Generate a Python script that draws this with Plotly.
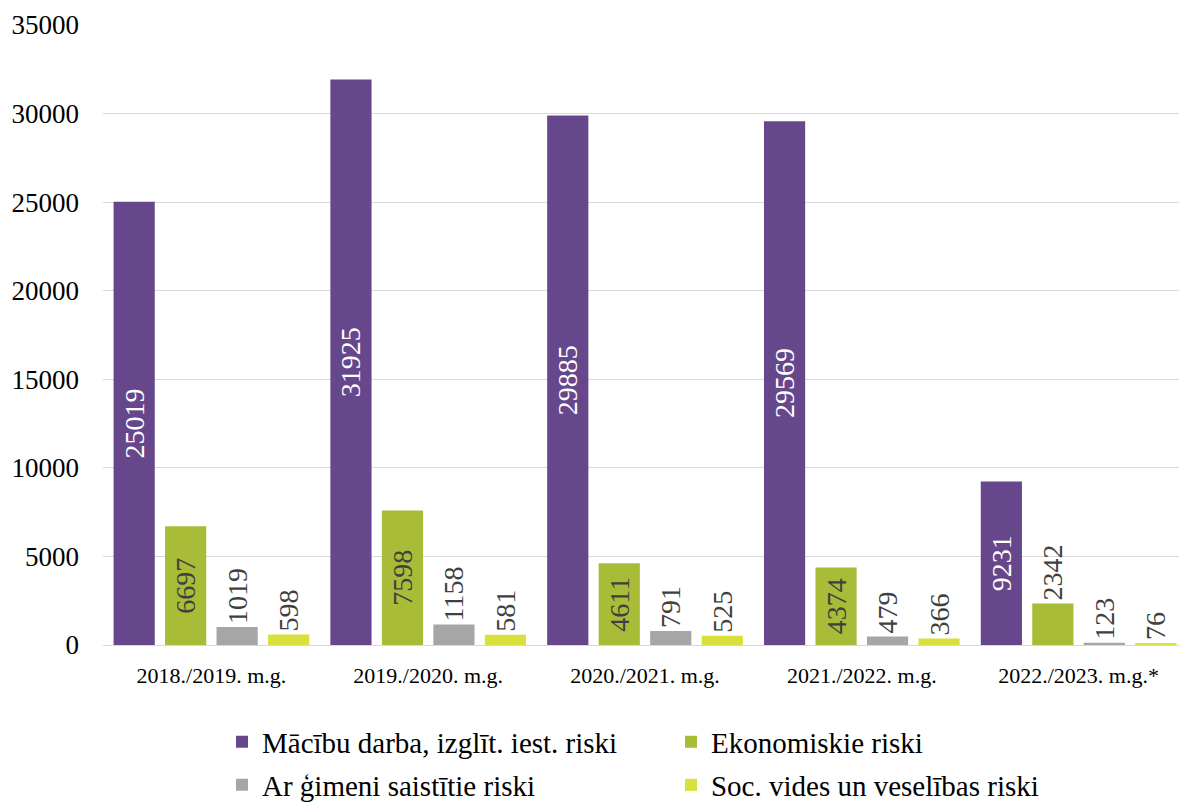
import plotly.graph_objects as go

categories = ["2018./2019. m.g.", "2019./2020. m.g.", "2020./2021. m.g.", "2021./2022. m.g.", "2022./2023. m.g.*"]
series_names = ["Mācību darba, izglīt. iest. riski", "Ekonomiskie riski",
                "Ar ģimeni saistītie riski", "Soc. vides un veselības riski"]
mac = [25019, 31925, 29885, 29569, 9231]
eko = [6697, 7598, 4611, 4374, 2342]
gim = [1019, 1158, 791, 479, 123]
soc = [598, 581, 525, 366, 76]

colors = ["#67478B", "#A8BC38", "#A6A6A6", "#D8E03C"]
FONT = "Liberation Serif, Times New Roman, serif"
values = [mac, eko, gim, soc]
legends = ["legend", "legend", "legend2", "legend2"]

fig = go.Figure()
for i, (name, vals) in enumerate(zip(series_names, values)):
    if i == 0:
        pos = ["inside"] * len(vals)
    elif i == 1:
        pos = ["inside" if v > 3000 else "outside" for v in vals]
    else:
        pos = ["outside"] * len(vals)
    tcol = "white" if i == 0 else "#404040"
    fig.add_trace(go.Bar(
        x=categories, y=vals, name=name,
        marker=dict(color=colors[i], line=dict(width=0)),
        text=[str(v) for v in vals], textposition=pos, textangle=-90,
        insidetextanchor="middle",
        textfont=dict(family=FONT, size=28, color=tcol),
        insidetextfont=dict(family=FONT, size=28, color=tcol),
        outsidetextfont=dict(family=FONT, size=28, color="#404040"),
        constraintext="none", cliponaxis=False,
        legend=legends[i],
    ))

legend_common = dict(orientation="h", xref="container", yref="container",
                     x=0.1815, xanchor="left", yanchor="middle",
                     entrywidth=404, entrywidthmode="pixels",
                     font=dict(family=FONT, size=29, color="#000000"),
                     traceorder="normal", bgcolor="rgba(0,0,0,0)")

fig.update_layout(
    width=1179, height=794,
    paper_bgcolor="white", plot_bgcolor="white",
    margin=dict(l=95, r=0, t=17, b=157, autoexpand=False),
    barmode="group", bargap=0.05, bargroupgap=0.2,
    font=dict(family=FONT, color="#000000"),
    uniformtext=dict(mode="show", minsize=28),
    legend=dict(y=0.0756, **legend_common),
    legend2=dict(y=0.0214, **legend_common),
)
fig.update_yaxes(range=[0, 35000], dtick=5000, tickformat="d",
                 showgrid=True, gridcolor="#D9D9D9", gridwidth=1,
                 zeroline=False, showline=False, automargin=False,
                 tickfont=dict(family=FONT, size=27, color="#000000"),
                 ticklabelstandoff=23)
fig.update_xaxes(showline=True, linecolor="#D9D9D9", linewidth=1, automargin=False,
                 tickfont=dict(family=FONT, size=22, color="#000000"),
                 ticklabelstandoff=11)

fig.write_html("out.html")
